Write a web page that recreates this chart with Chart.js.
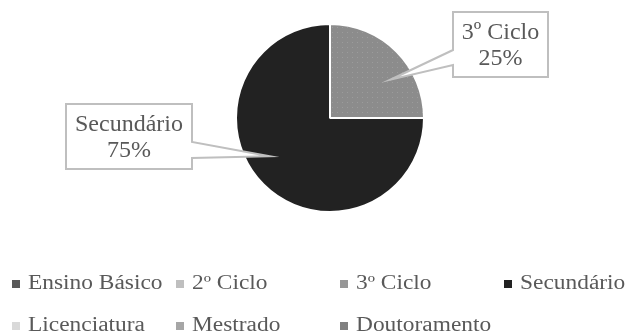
<!DOCTYPE html>
<html>
<head>
<meta charset="utf-8">
<script src="https://cdn.jsdelivr.net/npm/chart.js@4.4.1/dist/chart.umd.min.js"></script>
<style>
  html, body { margin: 0; padding: 0; background: #ffffff; }
  #wrap { width: 627px; height: 336px; position: relative; }
</style>
</head>
<body>
<div id="wrap"><canvas id="c" width="627" height="336"></canvas></div>
<script>
// ---- data ----
const categories = ["Ensino Básico", "2º Ciclo", "3º Ciclo", "Secundário", "Licenciatura", "Mestrado", "Doutoramento"];
const percentages = [0, 0, 25, 75, 0, 0, 0];
const sliceColors = ["#595959", "#bfbfbf", "#8c8c8c", "#222222", "#d9d9d9", "#a6a6a6", "#808080"];

// dotted pattern for 3º Ciclo
function dotPattern(base, dot) {
  const p = document.createElement('canvas');
  p.width = 5; p.height = 5;
  const g = p.getContext('2d');
  g.fillStyle = base; g.fillRect(0, 0, 5, 5);
  g.fillStyle = dot; g.fillRect(2, 2, 1, 1);
  return g.createPattern(p, 'repeat');
}
const fills = sliceColors.slice();
fills[2] = dotPattern("#8c8c8c", "#9c9c9c");

const TEXT_COLOR = "#595959";
const SERIF = '"Liberation Serif", "DejaVu Serif", serif';

// callout boxes (offsets relative to pie centre)
const callouts = {
  3: { dx: -264, dy: -14, w: 126, h: 65, side: 'right', b1: 38, b2: 54 },
  2: { dx: 123, dy: -106, w: 95, h: 65, side: 'left', b1: 38, b2: 53 }
};

const calloutPlugin = {
  id: 'callouts',
  afterDatasetsDraw(chart) {
    const ctx = chart.ctx;
    const meta = chart.getDatasetMeta(0);
    const total = percentages.reduce((a, b) => a + b, 0);
    meta.data.forEach((arc, i) => {
      const c = callouts[i];
      if (!c || percentages[i] === 0) return;
      const p = arc.getProps(['x', 'y', 'startAngle', 'endAngle', 'outerRadius'], true);
      const mid = (p.startAngle + p.endAngle) / 2 + 0.22;
      const tx = p.x + Math.cos(mid) * p.outerRadius * 0.76;
      const ty = p.y + Math.sin(mid) * p.outerRadius * 0.76;
      const L = p.x + c.dx, T = p.y + c.dy, R = L + c.w, B = T + c.h;
      ctx.save();
      ctx.beginPath();
      if (c.side === 'right') {
        ctx.moveTo(L, T); ctx.lineTo(R, T); ctx.lineTo(R, T + c.b1);
        ctx.lineTo(tx, ty); ctx.lineTo(R, T + c.b2); ctx.lineTo(R, B); ctx.lineTo(L, B);
      } else {
        ctx.moveTo(L, T); ctx.lineTo(R, T); ctx.lineTo(R, B); ctx.lineTo(L, B);
        ctx.lineTo(L, T + c.b2); ctx.lineTo(tx, ty); ctx.lineTo(L, T + c.b1);
      }
      ctx.closePath();
      ctx.fillStyle = '#ffffff';
      ctx.fill();
      ctx.lineWidth = 2;
      ctx.strokeStyle = '#bfbfbf';
      ctx.lineJoin = 'miter';
      ctx.stroke();
      ctx.fillStyle = TEXT_COLOR;
      ctx.font = '24px ' + SERIF;
      ctx.textAlign = 'center';
      ctx.textBaseline = 'middle';
      const pct = Math.round(percentages[i] / total * 100) + '%';
      ctx.fillText(categories[i], (L + R) / 2, T + 21);
      ctx.fillText(pct, (L + R) / 2, T + 47);
      ctx.restore();
    });
  }
};

const legendPlugin = {
  id: 'gridLegend',
  afterDraw(chart) {
    const ctx = chart.ctx;
    ctx.save();
    ctx.font = '20px ' + SERIF;
    ctx.textBaseline = 'middle';
    ctx.textAlign = 'left';
    categories.forEach((lab, i) => {
      const x = 12 + (i % 4) * 164;
      const y = 284 + Math.floor(i / 4) * 42;
      ctx.fillStyle = sliceColors[i] === "#8c8c8c" ? "#979797" : sliceColors[i];
      ctx.fillRect(x, y - 4, 8, 8);
      ctx.save();
      ctx.translate(x + 16, y);
      ctx.scale(1.17, 1);
      ctx.fillStyle = TEXT_COLOR;
      ctx.fillText(lab, 0, 0);
      ctx.restore();
    });
    ctx.restore();
  }
};

new Chart(document.getElementById('c'), {
  type: 'pie',
  data: {
    labels: categories,
    datasets: [{
      data: percentages,
      backgroundColor: fills,
      borderColor: '#ffffff',
      borderWidth: 2
    }]
  },
  options: {
    responsive: false,
    animation: false,
    layout: { padding: { left: 235, right: 202, top: 23, bottom: 123 } },
    plugins: {
      legend: { display: false },
      tooltip: { enabled: false }
    }
  },
  plugins: [calloutPlugin, legendPlugin]
});
</script>
</body>
</html>
